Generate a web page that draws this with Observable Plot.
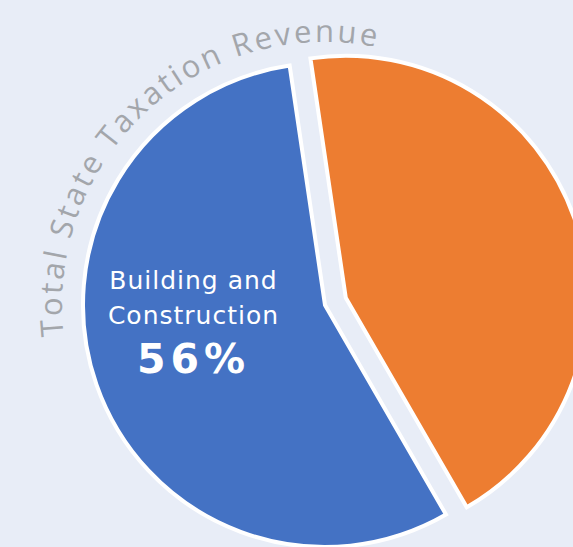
<!DOCTYPE html>
<html><head><meta charset="utf-8">
<script src="https://cdn.jsdelivr.net/npm/d3@7"></script>
<script src="https://cdn.jsdelivr.net/npm/@observablehq/plot@0.6"></script>
<style>
html,body{margin:0;padding:0;background:#E8EDF7;overflow:hidden;}
</style></head><body><div id="chart"></div>
<script>
// ---- data ----
const categories = ["Other taxation", "Building and Construction"];
const shares = [44, 56];
const sliceColors = ["#ED7D31", "#4472C4"];
const titleText = "Total State Taxation Revenue";
const labelText = "Building and\nConstruction";
const labelValue = "56%";

// ---- layout ----
const W = 573, H = 547, cx = 325, cy = 305, R = 242;
const explode = [22, 0];
const deg = Math.PI / 180;
const start = -8.4 * deg;
const slices = d3.pie().sort(null).startAngle(start).endAngle(start + 2 * Math.PI)(shares);

function pieMark(index, scales, values, dims) {
  const sx = (scales && scales.x) || (v => v);
  const sy = (scales && scales.y) || (v => v);
  const g = d3.create("svg:g");
  const arc = d3.arc().innerRadius(0).outerRadius(R);
  slices.forEach((s, i) => {
    const mid = (s.startAngle + s.endAngle) / 2;
    const dx = explode[i] * Math.sin(mid), dy = -explode[i] * Math.cos(mid);
    g.append("path")
      .attr("d", arc(s))
      .attr("transform", `translate(${sx(cx) + dx},${sy(cy) + dy})`)
      .attr("fill", sliceColors[i])
      .attr("stroke", "white")
      .attr("stroke-width", 4)
      .attr("stroke-linejoin", "miter");
  });
  // curved title
  const r2 = 263, a0 = -127.5 * deg, a1 = 42.5 * deg;
  const p = a => [sx(cx) + r2 * Math.sin(a), sy(cy) - r2 * Math.cos(a)];
  const [x0, y0] = p(a0), [x1, y1] = p(a1);
  g.append("path").attr("id", "titleArc")
    .attr("d", `M${x0},${y0}A${r2},${r2} 0 0 1 ${x1},${y1}`)
    .attr("fill", "none");
  g.append("text")
    .attr("font-family", "'Open Sans', sans-serif")
    .attr("font-size", 31)
    .attr("font-weight", 500)
    .attr("fill", "#A3A6AB")
    .attr("letter-spacing", 2.8)
    .append("textPath")
    .attr("href", "#titleArc")
    .attr("startOffset", "50%")
    .attr("text-anchor", "middle")
    .text(titleText);
  return g.node();
}

const plot = Plot.plot({
  width: W,
  height: H,
  margin: 0,
  x: {type: "identity", axis: null},
  y: {type: "identity", axis: null},
  style: {background: "#E8EDF7", overflow: "hidden"},
  marks: [
    pieMark,
    Plot.text([labelText], {x: 193, y: 295, text: d => d, fill: "white", fontSize: 25, lineHeight: 1.4, fontFamily: "DejaVu Sans", textAnchor: "middle", lineAnchor: "middle"}),
    Plot.text([labelValue], {x: 193, y: 359, text: d => d, fill: "white", fontSize: 41, fontWeight: "bold", fontFamily: "DejaVu Sans", textAnchor: "middle", lineAnchor: "middle"})
  ]
});
d3.select(plot).selectAll("text").filter(function() { return !this.querySelector("textPath"); })
  .attr("letter-spacing", function() { return this.textContent === labelValue ? 5 : 1; });
document.getElementById("chart").appendChild(plot);
</script>
</body></html>
